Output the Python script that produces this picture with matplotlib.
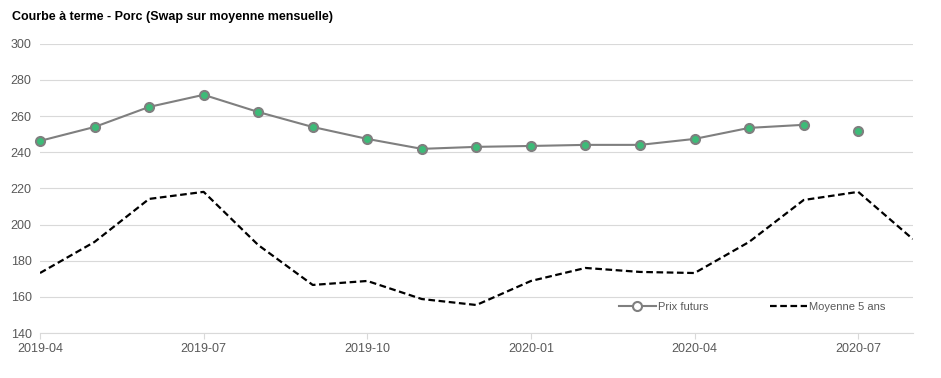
import matplotlib

matplotlib.use("Agg")
import matplotlib.pyplot as plt

plt.rcParams.update({"font.family": ["Liberation Sans", "DejaVu Sans"]})

months = ["2019-04", "2019-05", "2019-06", "2019-07", "2019-08", "2019-09",
          "2019-10", "2019-11", "2019-12", "2020-01", "2020-02", "2020-03",
          "2020-04", "2020-05", "2020-06", "2020-07", "2020-08"]
futures = [246.3, 254.0, 265.1, 271.8, 262.3, 254.0, 247.4, 241.9, 243.0,
           243.5, 244.1, 244.1, 247.4, 253.5, 255.2, 251.8]
avg5 = [173.2, 190.4, 214.2, 218.1, 188.7, 166.6, 168.8, 158.8, 155.5,
        168.8, 176.0, 173.8, 173.2, 190.4, 213.6, 218.1, 192.0]
tick_labels = ["2019-04", "2019-07", "2019-10", "2020-01", "2020-04", "2020-07"]

fig = plt.figure(figsize=(9.41, 3.78), dpi=100)
ax = fig.add_axes([0.0425, 0.119, 0.9275, 0.765])

x = list(range(len(months)))
green = "#3dbb78"
grey = "#7f7f7f"

# the last futures point is shown on its own, not joined to the line
ax.plot(x[:len(futures) - 1], futures[:-1], "-o", color=grey, lw=1.5,
        markersize=6.5, markerfacecolor=green, markeredgecolor=grey,
        markeredgewidth=1.5, label="Prix futurs", zorder=3, clip_on=False)
ax.plot(x[len(futures) - 1], futures[-1], "o", markersize=6.5,
        markerfacecolor=green, markeredgecolor=grey, markeredgewidth=1.5,
        zorder=3, clip_on=False)
ax.plot(x, avg5, "--", color="black", lw=1.6, dashes=(3, 1.6),
        label="Moyenne 5 ans", zorder=2)

ax.set_xlim(0, len(months) - 1)
ax.set_ylim(140, 300)
ax.set_yticks(range(140, 301, 20))
ax.set_xticks([months.index(m) for m in tick_labels])
ax.set_xticklabels(tick_labels)
ax.grid(axis="y", color="#d9d9d9", lw=0.8)
ax.set_axisbelow(True)
for s in ["top", "right", "left"]:
    ax.spines[s].set_visible(False)
ax.spines["bottom"].set_color("#d9d9d9")
ax.tick_params(axis="y", length=0, labelsize=9, colors="#595959", pad=6)
ax.tick_params(axis="x", length=4, color="#d9d9d9", labelsize=9,
               colors="#595959", pad=3)

leg = ax.legend(loc="center right", ncol=2, frameon=False, fontsize=8,
                bbox_to_anchor=(0.969, 0.09), borderpad=0, borderaxespad=0,
                columnspacing=5.6, handlelength=3.3, handletextpad=0.2)
for t in leg.get_texts():
    t.set_color("#595959")
leg.legend_handles[0].set_markerfacecolor("white")

fig.text(0.013, 0.955, "Courbe à terme - Porc (Swap sur moyenne mensuelle)",
         fontsize=9, fontweight="bold", ha="left", va="center")

fig.savefig("out.png", dpi=100)
